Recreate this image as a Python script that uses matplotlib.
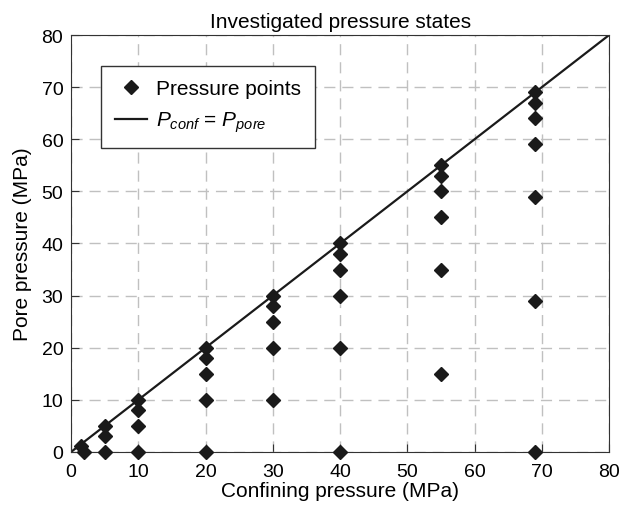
import numpy as np
import matplotlib
matplotlib.use("Agg")
import matplotlib.pyplot as plt

# Investigated pressure states (MPa): confining pressure -> pore pressures
conf_2 = [2, 1.5]
pore_2 = [0, 1.2]
conf_5 = [5, 5, 5]
pore_5 = [0, 3, 5]
conf_10 = [10, 10, 10, 10]
pore_10 = [0, 5, 8, 10]
conf_20 = [20, 20, 20, 20, 20]
pore_20 = [0, 10, 15, 18, 20]
conf_30 = [30, 30, 30, 30, 30]
pore_30 = [10, 20, 25, 28, 30]
conf_40 = [40, 40, 40, 40, 40, 40]
pore_40 = [0, 20, 30, 35, 38, 40]
conf_55 = [55, 55, 55, 55, 55, 55]
pore_55 = [15, 35, 45, 50, 53, 55]
conf_69 = [69, 69, 69, 69, 69, 69, 69]
pore_69 = [0, 29, 49, 59, 64, 67, 69]

conf = conf_2 + conf_5 + conf_10 + conf_20 + conf_30 + conf_40 + conf_55 + conf_69
pore = pore_2 + pore_5 + pore_10 + pore_20 + pore_30 + pore_40 + pore_55 + pore_69

line_x = [0, 80]
ticks = [0, 10, 20, 30, 40, 50, 60, 70, 80]

plt.rcParams["font.family"] = ["Liberation Sans", "DejaVu Sans"]
plt.rcParams["mathtext.fontset"] = "custom"
plt.rcParams["mathtext.it"] = "Liberation Sans:italic"
plt.rcParams["mathtext.rm"] = "Liberation Sans"

fig = plt.figure(figsize=(6.2, 5.1), dpi=100)
ax = fig.add_axes([0.1145, 0.1118, 0.868, 0.8176])

ax.plot(conf, pore, "D", color="#1a1a1a", markersize=7.5, clip_on=False,
        zorder=3, label="Pressure points")
ax.plot(line_x, line_x, "-", color="#1a1a1a", linewidth=1.6, zorder=2,
        label=r"$P_{conf}$ = $P_{pore}$")

ax.set_xlim(0, 80)
ax.set_ylim(0, 80)
ax.set_xticks(ticks)
ax.set_yticks(ticks)
ax.tick_params(direction="in", labelsize=14, length=6, color="#333333")
ax.tick_params(axis="x", pad=8)
ax.tick_params(axis="y", pad=5.5)
for s in ax.spines.values():
    s.set_color("#333333")
ax.grid(True, color="#c0c0c0", linestyle=(0, (8, 5)), linewidth=1)
ax.set_axisbelow(True)

ax.set_title("Investigated pressure states", fontsize=15, pad=6)
ax.set_xlabel("Confining pressure (MPa)", fontsize=15, labelpad=1)
ax.set_ylabel("Pore pressure (MPa)", fontsize=15, labelpad=7)

leg = ax.legend(loc="upper left", bbox_to_anchor=(0.056, 0.926),
                borderaxespad=0, fontsize=15, frameon=True, fancybox=False,
                edgecolor="#333333", framealpha=1, borderpad=0.65,
                handlelength=1.55, handletextpad=0.45, labelspacing=0.55)
leg.get_frame().set_linewidth(1)

fig.savefig("out.png", dpi=100)
